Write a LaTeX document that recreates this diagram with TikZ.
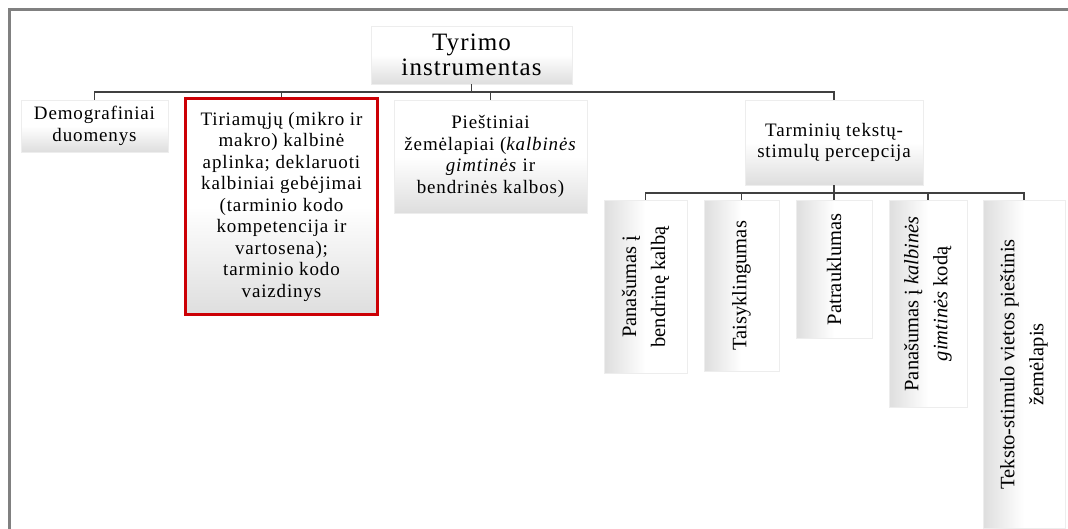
\documentclass[tikz,border=0pt]{standalone}
\usepackage{fontspec}
\setmainfont{Liberation Serif}
\newfontfamily\boxfont{Liberation Serif}[LetterSpace=4.5]
\usetikzlibrary{positioning}

\begin{document}
\begin{tikzpicture}[x=1pt,y=-1pt,
		box/.style={draw=gray!14,line width=0.6pt,top color=white,bottom color=gray!26,middle color=white,
			align=center,inner sep=2pt,font=\boxfont\fontsize{19}{21.5}\selectfont},
		vbox/.style={draw=gray!14,line width=0.6pt,left color=gray!26,right color=white,middle color=white,
			rotate=90,anchor=east,align=center,inner sep=2pt,font=\fontsize{20.5}{29}\selectfont},
		link/.style={draw=linkgray,line width=1.8pt}]
		\definecolor{framegray}{rgb}{0.5,0.5,0.5}
		\definecolor{linkgray}{rgb}{0.25,0.25,0.25}
		\definecolor{markred}{rgb}{0.8,0,0.02}
		\useasboundingbox (0,0) rectangle (1068,529);
		\draw[framegray,line width=3.5pt] (9.5,529) -- (9.5,9.5) -- (1068,9.5);

		\node[box,minimum width=201,minimum height=58,font=\boxfont\fontsize{25}{25}\selectfont] (root) at (471.5,55) {Tyrimo\\instrumentas};
		\node[box,minimum width=147,minimum height=52] (demo) at (94.5,126) {Demografiniai\\duomenys};
		\node[box,draw=markred,line width=3pt,minimum width=192,minimum height=216] (env) at (281.5,206.5)
			{Tiriamųjų (mikro ir\\makro) kalbinė\\aplinka; deklaruoti\\kalbiniai gebėjimai\\(tarminio kodo\\kompetencija ir\\vartosena);\\tarminio kodo\\vaizdinys};
		\node[box,minimum width=193,minimum height=113] (maps) at (490.5,156.5)
			{Pieštiniai\\žemėlapiai (\textit{kalbinės}\\\textit{gimtinės} ir\\bendrinės kalbos)};
		\node[box,minimum width=178,minimum height=85] (perc) at (834,142.5) {Tarminių tekstų-\\stimulų percepcija};

		\node[vbox,minimum width=173,minimum height=83] (simstd) at (645.5,200) {Panašumas į\\bendrinę kalbą};
		\node[vbox,minimum width=171,minimum height=75] (correct) at (741.5,200) {Taisyklingumas};
		\node[vbox,minimum width=138,minimum height=76] (appeal) at (834,200) {Patrauklumas};
		\node[vbox,minimum width=207,minimum height=78] (simhome) at (928,200) {Panašumas į \textit{kalbinės}\\\textit{gimtinės} kodą};
		\node[vbox,minimum width=328,minimum height=82] (stimmap) at (1024,200) {Teksto-stimulo vietos pieštinis\\žemėlapis};

		\draw[link] (root.south) -- ++(0,8) -| (demo.north);
		\draw[link] (root.south) -- ++(0,8) -| (env.north);
		\draw[link] (root.south) -- ++(0,8) -| (maps.north);
		\draw[link] (root.south) -- ++(0,8) -| (perc.north);
		\foreach \kid in {simstd,correct,appeal,simhome,stimmap}
			\draw[link] (perc.south) -- ++(0,8) -| (\kid.east);
	\end{tikzpicture}
\end{document}
